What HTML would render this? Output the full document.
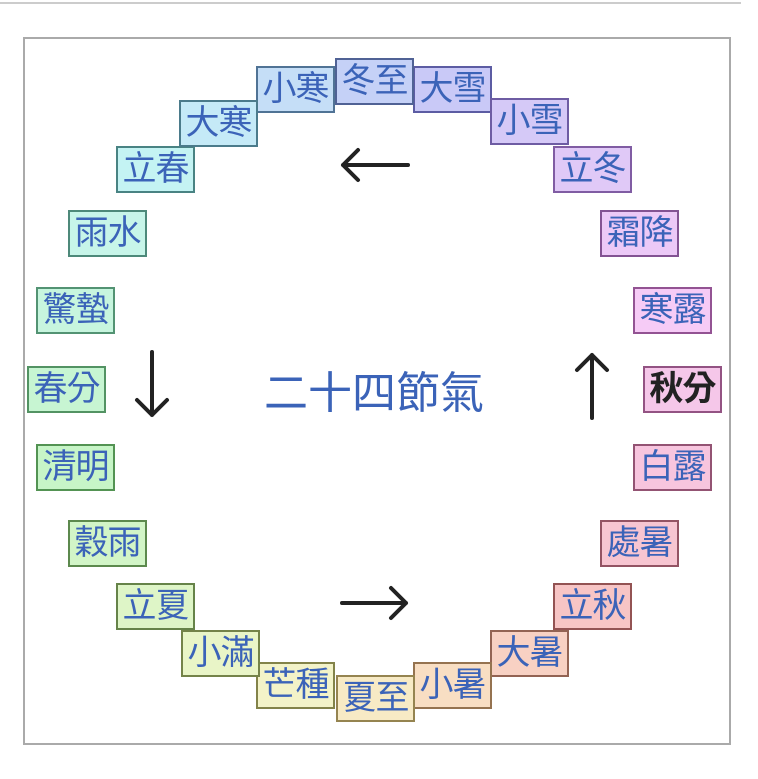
<!DOCTYPE html>
<html><head><meta charset="utf-8"><style>
body{margin:0;width:758px;height:779px;background:#fff;position:relative;overflow:hidden;font-family:"Liberation Sans","Noto Sans CJK TC",sans-serif}
.top{position:absolute;left:0;top:2px;width:741px;height:2px;background:#ccc}
.frame{position:absolute;left:23px;top:37px;width:704px;height:704px;border:2px solid #aaa}
.b{position:absolute;width:75px;height:43px;border:2px solid;font-size:34px;line-height:43px;text-align:center;color:#3b63b8;white-space:nowrap;letter-spacing:-1px;overflow:hidden}
.c{position:absolute;left:264px;top:357px;font-size:44px;color:#3b63b8;letter-spacing:0px}
svg{position:absolute;left:0;top:0}
</style></head><body>
<div class="top"></div>
<div class="frame"></div>
<div class="b" style="left:256px;top:66px;background:hsl(210,75%,87%);border-color:hsl(210,30%,45%)">小寒</div>
<div class="b" style="left:413px;top:66px;background:hsl(240,75%,88%);border-color:hsl(240,28%,50%)">大雪</div>
<div class="b" style="left:335px;top:58px;background:hsl(225,75%,87%);border-color:hsl(225,30%,45%)">冬至</div>
<div class="b" style="left:490px;top:98px;background:hsl(255,75%,88%);border-color:hsl(255,28%,50%)">小雪</div>
<div class="b" style="left:553px;top:146px;background:hsl(270,75%,88%);border-color:hsl(270,28%,50%)">立冬</div>
<div class="b" style="left:600px;top:210px;background:hsl(285,75%,88%);border-color:hsl(285,28%,45%)">霜降</div>
<div class="b" style="left:633px;top:287px;background:hsl(300,70%,88%);border-color:hsl(300,28%,45%)">寒露</div>
<div class="b" style="left:643px;top:366px;background:hsl(315,70%,87%);border-color:hsl(315,28%,45%);color:#222;font-weight:bold">秋分</div>
<div class="b" style="left:633px;top:444px;background:hsl(330,75%,87%);border-color:hsl(330,28%,45%)">白露</div>
<div class="b" style="left:600px;top:520px;background:hsl(345,75%,87%);border-color:hsl(345,28%,45%)">處暑</div>
<div class="b" style="left:553px;top:583px;background:hsl(0,75%,87%);border-color:hsl(0,28%,45%)">立秋</div>
<div class="b" style="left:490px;top:630px;background:hsl(15,80%,87%);border-color:hsl(15,28%,45%)">大暑</div>
<div class="b" style="left:413px;top:662px;background:hsl(30,80%,87%);border-color:hsl(30,30%,45%)">小暑</div>
<div class="b" style="left:256px;top:662px;background:hsl(60,65%,87%);border-color:hsl(60,28%,40%)">芒種</div>
<div class="b" style="left:336px;top:675px;background:hsl(45,75%,87%);border-color:hsl(45,30%,45%)">夏至</div>
<div class="b" style="left:181px;top:630px;background:hsl(75,70%,87%);border-color:hsl(75,28%,40%)">小滿</div>
<div class="b" style="left:116px;top:583px;background:hsl(90,70%,87%);border-color:hsl(90,28%,40%)">立夏</div>
<div class="b" style="left:68px;top:520px;background:hsl(105,70%,87%);border-color:hsl(105,28%,42%)">穀雨</div>
<div class="b" style="left:36px;top:444px;background:hsl(120,70%,87%);border-color:hsl(120,28%,45%)">清明</div>
<div class="b" style="left:27px;top:366px;background:hsl(135,70%,87%);border-color:hsl(135,28%,45%)">春分</div>
<div class="b" style="left:36px;top:287px;background:hsl(150,70%,87%);border-color:hsl(150,28%,45%)">驚蟄</div>
<div class="b" style="left:68px;top:210px;background:hsl(165,70%,87%);border-color:hsl(165,28%,42%)">雨水</div>
<div class="b" style="left:116px;top:146px;background:hsl(180,65%,86%);border-color:hsl(180,28%,40%)">立春</div>
<div class="b" style="left:179px;top:100px;background:hsl(195,75%,87%);border-color:hsl(195,30%,42%)">大寒</div>
<div class="c">二十四節氣</div>
<svg width="758" height="779" fill="none" stroke="#222" stroke-width="4" stroke-linecap="round" stroke-linejoin="round">
<path d="M408 165H343M358 150L343 165L358 180"/>
<path d="M152 352V415M137 400L152 415L167 400"/>
<path d="M342 603H406M391 588L406 603L391 618"/>
<path d="M592 418V355M577 370L592 355L607 370"/>
</svg>
</body></html>
